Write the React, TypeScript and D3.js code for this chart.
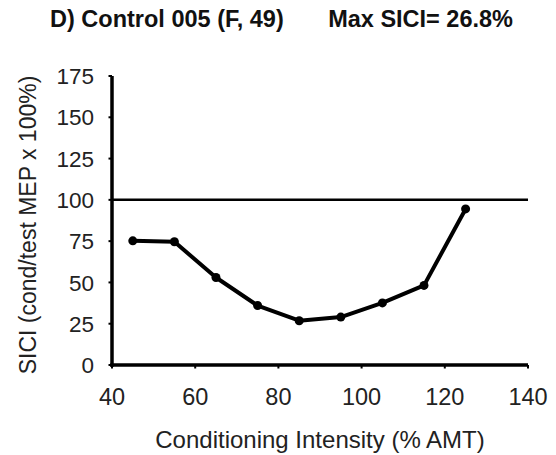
import React from "react";
import * as d3 from "d3";

const intensities = [45, 55, 65, 75, 85, 95, 105, 115, 125];
const sici = [75.2, 74.6, 53, 36, 26.8, 29, 37.6, 48.2, 94.5];
const xTicks = [40, 60, 80, 100, 120, 140];
const yTicks = [0, 25, 50, 75, 100, 125, 150, 175];
const referenceLevel = 100;
const titleLeft = "D) Control 005 (F, 49)";
const titleRight = "Max SICI= 26.8%";
const xTitle = "Conditioning Intensity (% AMT)";
const yTitle = "SICI (cond/test MEP x 100%)";

export default function App() {
  const W = 556, H = 455;
  const left = 112, right = 528, top = 76, bottom = 365;
  const x = d3.scaleLinear().domain([40, 140]).range([left, right]);
  const y = d3.scaleLinear().domain([0, 175]).range([bottom, top]);
  const pts: [number, number][] = intensities.map((v, i) => [v, sici[i]]);
  const line = d3.line<[number, number]>().x(d => x(d[0])).y(d => y(d[1]));
  const font = "'Liberation Sans', Arial, sans-serif";
  return (
    <svg width={W} height={H} style={{ position: "absolute", left: 0, top: 0, background: "#fff" }} fontFamily={font}>
      <text x={50} y={27} fontSize={23.5} fontWeight="bold" fill="#111">{titleLeft}</text>
      <text x={513} y={27} fontSize={23.5} fontWeight="bold" fill="#111" textAnchor="end">{titleRight}</text>
      {/* reference line */}
      <line x1={x(40)} x2={x(140)} y1={y(referenceLevel)} y2={y(referenceLevel)} stroke="#000" strokeWidth={2.5} />
      {/* axes */}
      <line x1={x(40)} x2={x(40)} y1={y(0) + 1.75} y2={y(175)} stroke="#000" strokeWidth={3.5} />
      <line x1={x(40) - 1.75} x2={x(140)} y1={y(0)} y2={y(0)} stroke="#000" strokeWidth={3.5} />
      {yTicks.map(t => (
        <g key={"y" + t}>
          <line x1={x(40) - 3.5} x2={x(40)} y1={y(t)} y2={y(t)} stroke="#000" strokeWidth={2} />
          <text x={94} y={y(t)} dy="0.36em" fontSize={22.5} textAnchor="end" fill="#222">{t}</text>
        </g>
      ))}
      {xTicks.map(t => (
        <g key={"x" + t}>
          <line x1={x(t)} x2={x(t)} y1={y(0)} y2={y(0) + 3.5} stroke="#000" strokeWidth={2} />
          <text x={x(t)} y={405} fontSize={23.5} textAnchor="middle" fill="#222">{t}</text>
        </g>
      ))}
      <text x={320} y={448} fontSize={24} textAnchor="middle" fill="#222">{xTitle}</text>
      <text transform={`translate(36, 225) rotate(-90)`} fontSize={23} textAnchor="middle" fill="#222">{yTitle}</text>
      <path d={line(pts) || ""} fill="none" stroke="#000" strokeWidth={4} strokeLinejoin="round" />
      {pts.map((p, i) => (
        <circle key={i} cx={x(p[0])} cy={y(p[1])} r={4.5} fill="#000" />
      ))}
    </svg>
  );
}
